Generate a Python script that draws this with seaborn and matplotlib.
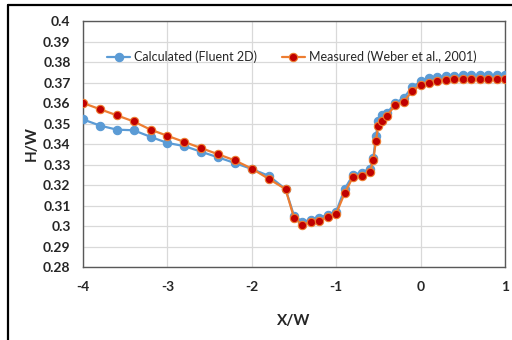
import matplotlib
matplotlib.use("Agg")
import matplotlib.pyplot as plt
import seaborn as sns
import pandas as pd
from matplotlib.lines import Line2D

x_w = [-4.0, -3.8, -3.6, -3.4, -3.2, -3.0, -2.8, -2.6, -2.4, -2.2, -2.0, -1.8, -1.6,
       -1.5, -1.4, -1.3, -1.2, -1.1, -1.0, -0.9, -0.8, -0.7, -0.6, -0.56, -0.53,
       -0.5, -0.46, -0.4, -0.3, -0.2, -0.1, 0.0, 0.1, 0.2, 0.3, 0.4, 0.5, 0.6,
       0.7, 0.8, 0.9, 1.0]
calculated = [0.352, 0.349, 0.347, 0.3467, 0.3435, 0.3405, 0.339, 0.3362, 0.3335,
              0.3307, 0.3278, 0.3245, 0.318, 0.305, 0.302, 0.303, 0.304, 0.3055,
              0.307, 0.318, 0.325, 0.326, 0.328, 0.333, 0.344, 0.351, 0.354, 0.355,
              0.360, 0.3625, 0.3677, 0.3705, 0.372, 0.3728, 0.373, 0.3733, 0.3735,
              0.3735, 0.3735, 0.3735, 0.3735, 0.3735]
measured = [0.360, 0.357, 0.354, 0.351, 0.347, 0.344, 0.341, 0.338, 0.335, 0.332,
            0.328, 0.323, 0.318, 0.304, 0.3005, 0.302, 0.3026, 0.3045, 0.306, 0.316,
            0.324, 0.3245, 0.3265, 0.332, 0.3416, 0.349, 0.3514, 0.3537, 0.359,
            0.3606, 0.3658, 0.3688, 0.370, 0.3709, 0.3712, 0.3715, 0.3715, 0.3715,
            0.3715, 0.3715, 0.3715, 0.3715]
labels = ["Calculated (Fluent 2D)", "Measured (Weber et al., 2001)"]
x_ticks = [-4, -3, -2, -1, 0, 1]
y_ticks = [0.28, 0.29, 0.30, 0.31, 0.32, 0.33, 0.34, 0.35, 0.36, 0.37, 0.38, 0.39, 0.40]
y_tick_labels = ["0.28", "0.29", "0.3", "0.31", "0.32", "0.33", "0.34", "0.35",
                 "0.36", "0.37", "0.38", "0.39", "0.4"]

sns.set_style("white")
plt.rcParams['font.family'] = ['Lato', 'DejaVu Sans']

fig = plt.figure(figsize=(5.12, 3.40), dpi=100)
ax = fig.add_axes([83 / 512, 1 - 267 / 340, (505 - 83) / 512, (267 - 21) / 340])

df = pd.DataFrame({"x": x_w, "calc": calculated, "meas": measured})

blue = "#5B9BD5"
orange = "#ED7D31"
red = "#C00000"

sns.lineplot(data=df, x="x", y="calc", ax=ax, color=blue, linewidth=1.6,
             marker="o", markersize=6, markerfacecolor=blue,
             markeredgecolor=blue, markeredgewidth=0.8, label=labels[0], zorder=3)
sns.lineplot(data=df, x="x", y="meas", ax=ax, color=orange, linewidth=1.6,
             marker="o", markersize=6, markerfacecolor=red,
             markeredgecolor=orange, markeredgewidth=0.8, label=labels[1], zorder=4)

ax.set_xlim(-4, 1)
ax.set_ylim(0.28, 0.40)
ax.set_xticks(x_ticks)
ax.set_xticklabels([str(t) for t in x_ticks], fontweight="bold", fontsize=10)
ax.set_yticks(y_ticks)
ax.set_yticklabels(y_tick_labels, fontweight="bold", fontsize=10)
ax.tick_params(axis="x", length=0, pad=10)
ax.tick_params(axis="y", length=0, pad=9)
ax.grid(True, color="#D9D9D9", linewidth=0.9)
ax.set_axisbelow(True)
for s in ax.spines.values():
    s.set_color("#595959")
    s.set_linewidth(1.0)
ax.set_xlabel("X/W", fontweight="bold", fontsize=11, labelpad=15)
ax.set_ylabel("H/W", fontweight="bold", fontsize=11, labelpad=3)

ax.legend(ncol=2, frameon=False, loc="center left", bbox_to_anchor=(0.057, 0.855),
          fontsize=9, handlelength=1.85, columnspacing=2.0, handletextpad=0.3,
          borderaxespad=0, borderpad=0)

# outer chart border (left and top)
fig.add_artist(Line2D([8 / 512, 8 / 512], [0, 1 - 5 / 340], transform=fig.transFigure,
                      color="black", linewidth=1.6))
fig.add_artist(Line2D([8 / 512, 1], [1 - 5 / 340, 1 - 5 / 340], transform=fig.transFigure,
                      color="black", linewidth=1.6))

fig.savefig("out.png", dpi=100)
